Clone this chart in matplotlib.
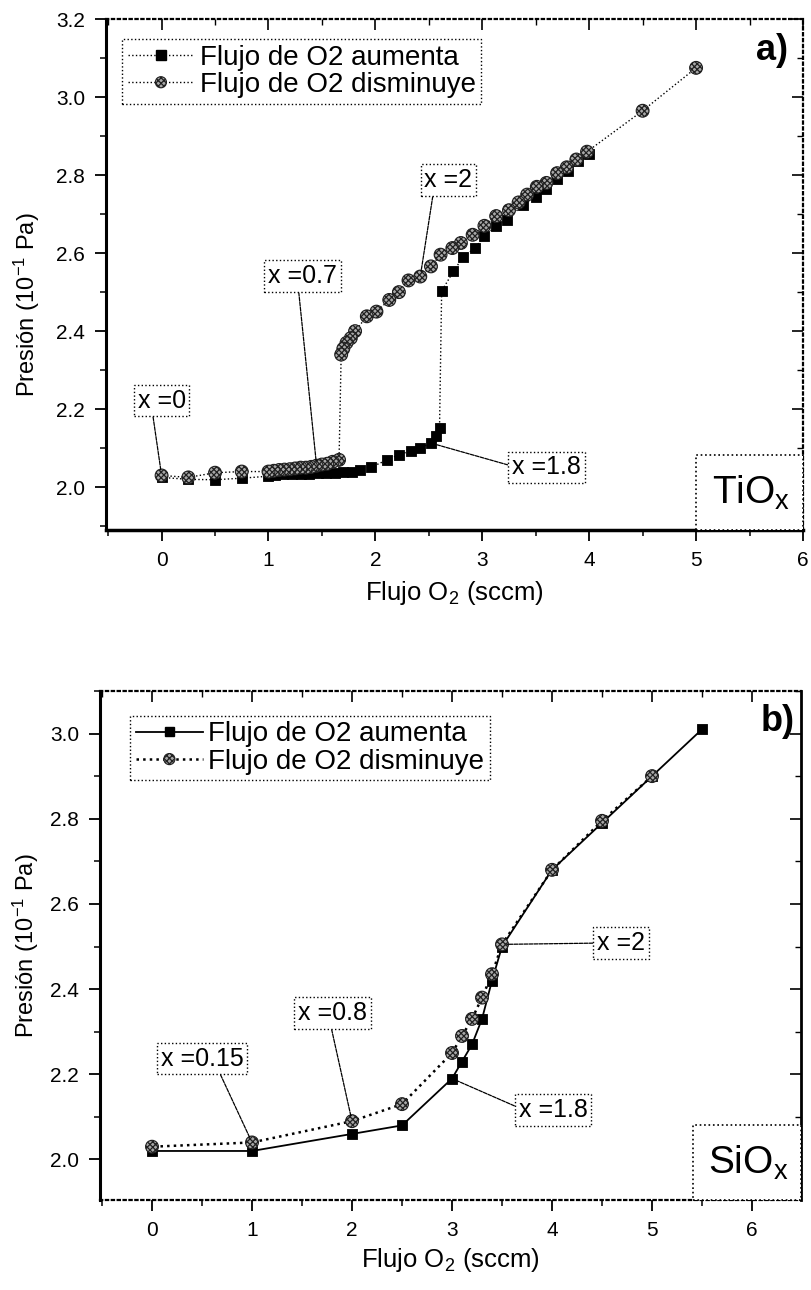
import matplotlib
matplotlib.use('Agg')
import matplotlib.pyplot as plt
from matplotlib.legend_handler import HandlerBase
from matplotlib.lines import Line2D
from matplotlib.patches import Rectangle, Circle
from matplotlib.ticker import MultipleLocator, FormatStrFormatter

plt.rcParams['font.family'] = ['Liberation Sans', 'DejaVu Sans']
plt.rcParams['mathtext.default'] = 'regular'
plt.rcParams['hatch.linewidth'] = 0.9

# ---------------- data: panel a) TiOx ----------------
tio_inc_x = [0.0, 0.25, 0.50, 0.75, 1.00, 1.06, 1.14, 1.22, 1.30, 1.38, 1.46, 1.54, 1.62, 1.70,
             1.78, 1.86, 1.96, 2.11, 2.22, 2.33, 2.42, 2.52, 2.57, 2.60, 2.62, 2.73, 2.82, 2.93,
             3.02, 3.13, 3.23, 3.38, 3.50, 3.60, 3.70, 3.80, 3.90, 4.00]
tio_inc_y = [2.025, 2.02, 2.019, 2.023, 2.028, 2.03, 2.033, 2.034, 2.035, 2.035, 2.036, 2.036,
             2.037, 2.038, 2.04, 2.045, 2.051, 2.07, 2.083, 2.093, 2.10, 2.113, 2.13, 2.151,
             2.503, 2.553, 2.59, 2.613, 2.643, 2.669, 2.685, 2.724, 2.745, 2.765, 2.79, 2.81,
             2.835, 2.855]
tio_dec_x = [5.0, 4.5, 3.98, 3.88, 3.79, 3.70, 3.60, 3.51, 3.42, 3.34, 3.25, 3.13, 3.02, 2.91,
             2.80, 2.72, 2.61, 2.52, 2.42, 2.31, 2.22, 2.13, 2.01, 1.92, 1.81, 1.77, 1.73, 1.70,
             1.68, 1.66, 1.60, 1.55, 1.50, 1.45, 1.40, 1.35, 1.30, 1.25, 1.20, 1.15, 1.10, 1.05,
             1.00, 0.75, 0.50, 0.25, 0.0]
tio_dec_y = [3.075, 2.965, 2.86, 2.84, 2.82, 2.805, 2.78, 2.77, 2.75, 2.73, 2.71, 2.695, 2.67,
             2.647, 2.626, 2.613, 2.596, 2.566, 2.54, 2.53, 2.50, 2.48, 2.45, 2.438, 2.40, 2.382,
             2.37, 2.355, 2.34, 2.07, 2.065, 2.06, 2.058, 2.055, 2.052, 2.05, 2.05, 2.048, 2.046,
             2.045, 2.044, 2.042, 2.04, 2.04, 2.037, 2.025, 2.03]

# ---------------- data: panel b) SiOx ----------------
sio_inc_x = [0, 1, 2, 2.5, 3.0, 3.1, 3.2, 3.3, 3.4, 3.5, 4.0, 4.5, 5.0, 5.5]
sio_inc_y = [2.02, 2.02, 2.06, 2.08, 2.19, 2.23, 2.27, 2.33, 2.42, 2.50, 2.68, 2.79, 2.90, 3.01]
sio_dec_x = [5.0, 4.5, 4.0, 3.5, 3.4, 3.3, 3.2, 3.1, 3.0, 2.5, 2.0, 1.0, 0]
sio_dec_y = [2.90, 2.795, 2.68, 2.505, 2.435, 2.38, 2.33, 2.29, 2.25, 2.13, 2.09, 2.04, 2.03]

legend_labels = ['Flujo de O2 aumenta', 'Flujo de O2 disminuye']
xlabel = 'Flujo O$_2$ (sccm)'
ylabel = 'Presi\u00f3n (10$^{-1}$ Pa)'

HATCH_FACE = '#a8a8a8'
HATCH = 'xxxxxx'

fig = plt.figure(figsize=(8.11, 12.9), dpi=100)
ax1 = fig.add_axes([0.1307, 0.5891, 0.8594, 0.3961])
ax2 = fig.add_axes([0.1233, 0.0698, 0.8644, 0.3946])


class SeriesKey:
    def __init__(self, kind, ls, lw):
        self.kind, self.ls, self.lw = kind, ls, lw


class SeriesHandler(HandlerBase):
    def create_artists(self, legend, orig_handle, xdescent, ydescent, width, height,
                       fontsize, trans):
        cy = height / 2 - ydescent
        x0, x1 = -xdescent, width - xdescent
        cx = (x0 + x1) / 2
        line = Line2D([x0, x1], [cy, cy], color='black', ls=orig_handle.ls,
                      lw=orig_handle.lw, transform=trans)
        if orig_handle.kind == 'square':
            r = 3.4
            mk = Rectangle((cx - r, cy - r), 2 * r, 2 * r, fc='black', ec='black',
                           transform=trans)
        else:
            mk = Circle((cx, cy), 4.0, fc=HATCH_FACE, ec='#202020', hatch=HATCH, lw=0.8,
                        transform=trans)
        return [line, mk]


def draw_series(ax, x, y, kind, ls, lw, z):
    ax.plot(x, y, color='black', ls=ls, lw=lw, zorder=z)
    if kind == 'square':
        ax.scatter(x, y, marker='s', s=62, facecolor='black', edgecolor='black',
                   linewidths=0.6, zorder=z + 0.5)
    else:
        ax.scatter(x, y, marker='o', s=85, facecolor=HATCH_FACE, edgecolor='#202020',
                   hatch=HATCH, linewidths=0.8, zorder=z + 0.5)
    return SeriesKey(kind, ls, lw)


def style_axes(ax, xlim, ylim, spine_styles):
    ax.set_xlim(*xlim)
    ax.set_ylim(*ylim)
    ax.xaxis.set_major_locator(MultipleLocator(1))
    ax.xaxis.set_minor_locator(MultipleLocator(0.5))
    ax.yaxis.set_major_locator(MultipleLocator(0.2))
    ax.yaxis.set_minor_locator(MultipleLocator(0.1))
    ax.xaxis.set_major_formatter(FormatStrFormatter('%d'))
    ax.yaxis.set_major_formatter(FormatStrFormatter('%.1f'))
    ax.tick_params(which='major', direction='out', length=8, width=1.3, labelsize=15, pad=7)
    ax.tick_params(which='minor', direction='out', length=4, width=1.1)
    for side, (ls, lw) in spine_styles.items():
        ax.spines[side].set_linestyle(ls)
        ax.spines[side].set_linewidth(lw)
    sx = ax.secondary_xaxis('top')
    sx.xaxis.set_major_locator(MultipleLocator(1))
    sx.xaxis.set_minor_locator(MultipleLocator(0.5))
    sx.tick_params(which='major', direction='in', length=8, width=1.2, labeltop=False)
    sx.tick_params(which='minor', direction='in', length=4, width=1.0)
    sx.spines['top'].set_visible(False)
    sy = ax.secondary_yaxis('right')
    sy.yaxis.set_major_locator(MultipleLocator(0.2))
    sy.yaxis.set_minor_locator(MultipleLocator(0.1))
    sy.tick_params(which='major', direction='in', length=8, width=1.2, labelright=False)
    sy.tick_params(which='minor', direction='in', length=4, width=1.0)
    sy.spines['right'].set_visible(False)
    ax.set_xlabel(xlabel, fontsize=18.5)
    ax.set_ylabel(ylabel, fontsize=17)
    ax.xaxis.label.set_va('center')
    ax.yaxis.label.set_va('center')


def box_note(ax, text, xy, xytext, relpos):
    ax.annotate(text, xy=xy, xytext=xytext, textcoords='data', ha='center', va='center',
                fontsize=18, zorder=8,
                bbox=dict(boxstyle='square,pad=0.15', fc='white', ec='black', lw=1.0, ls=':'),
                arrowprops=dict(arrowstyle='-', lw=0.9, color='black', ls=(0, (3, 1)),
                                relpos=relpos, shrinkA=0, shrinkB=4))


def compound_box(ax, text):
    ax.add_patch(Rectangle((0.846, 0.0), 0.154, 0.147, transform=ax.transAxes, fc='white',
                           ec='black', lw=1.2, ls=':', zorder=7, clip_on=False))
    ax.text(0.925, 0.072, text, transform=ax.transAxes, ha='center', va='center',
            fontsize=28, zorder=8)


def add_legend(ax, handles, anchor):
    leg = ax.legend(handles, legend_labels, loc='upper left', bbox_to_anchor=anchor,
                    borderaxespad=0, fontsize=20, handlelength=2.4, handletextpad=0.2,
                    labelspacing=0.05, borderpad=0.2, fancybox=False, framealpha=1,
                    edgecolor='black', handler_map={SeriesKey: SeriesHandler()})
    leg.get_frame().set_linestyle(':')
    leg.get_frame().set_linewidth(1.0)
    leg.set_zorder(9)


# ---------------- panel a) ----------------
ka = draw_series(ax1, tio_inc_x, tio_inc_y, 'square', ':', 1.0, 3)
kd = draw_series(ax1, tio_dec_x, tio_dec_y, 'circle', ':', 1.0, 4)
style_axes(ax1, (-0.52, 6.0), (1.89, 3.2),
           {'left': ('-', 2.2), 'bottom': ('-', 2.5), 'top': (':', 1.6), 'right': (':', 1.6)})
ax1.yaxis.set_label_coords(-0.113, 0.44)
ax1.xaxis.set_label_coords(0.5, -0.123)
add_legend(ax1, [ka, kd], (0.023, 0.961))
ax1.text(0.955, 0.939, 'a)', transform=ax1.transAxes, ha='center', va='center',
         fontsize=26, fontweight='bold')
compound_box(ax1, 'TiO$_x$')
i0 = tio_dec_x.index(0.0)
i07 = tio_dec_x.index(1.45)
i2 = tio_dec_x.index(2.42)
i18 = tio_inc_x.index(2.52)
box_note(ax1, 'x =0', (tio_dec_x[i0], tio_dec_y[i0]), (0.0, 2.222), (0.31, 0))
box_note(ax1, 'x =0.7', (tio_dec_x[i07], tio_dec_y[i07]), (1.318, 2.541), (0.44, 0))
box_note(ax1, 'x =2', (tio_dec_x[i2], tio_dec_y[i2]), (2.682, 2.787), (0.19, 0))
box_note(ax1, 'x =1.8', (tio_inc_x[i18], tio_inc_y[i18]), (3.6, 2.051), (0, 0.55))

# ---------------- panel b) ----------------
kb = draw_series(ax2, sio_inc_x, sio_inc_y, 'square', '-', 1.3, 3)
ke = draw_series(ax2, sio_dec_x, sio_dec_y, 'circle', ':', 1.8, 4)
style_axes(ax2, (-0.52, 6.49), (1.905, 3.1),
           {'left': ('-', 2.2), 'bottom': (':', 1.6), 'top': (':', 1.6), 'right': ('-', 2.0)})
ax2.yaxis.set_label_coords(-0.106, 0.5)
ax2.xaxis.set_label_coords(0.5, -0.118)
add_legend(ax2, [kb, ke], (0.0435, 0.951))
ax2.text(0.966, 0.939, 'b)', transform=ax2.transAxes, ha='center', va='center',
         fontsize=26, fontweight='bold')
compound_box(ax2, 'SiO$_x$')
j015 = sio_dec_x.index(1.0)
j08 = sio_dec_x.index(2.0)
j2 = sio_dec_x.index(3.5)
j18 = sio_inc_x.index(3.0)
box_note(ax2, 'x =0.15', (sio_dec_x[j015], sio_dec_y[j015]), (0.50, 2.237), (0.70, 0))
box_note(ax2, 'x =0.8', (sio_dec_x[j08], sio_dec_y[j08]), (1.807, 2.344), (0.47, 0))
box_note(ax2, 'x =2', (sio_dec_x[j2], sio_dec_y[j2]), (4.69, 2.508), (0, 0.5))
box_note(ax2, 'x =1.8', (sio_inc_x[j18], sio_inc_y[j18]), (4.01, 2.116), (0, 0.6))

fig.savefig('out.png', dpi=100)
